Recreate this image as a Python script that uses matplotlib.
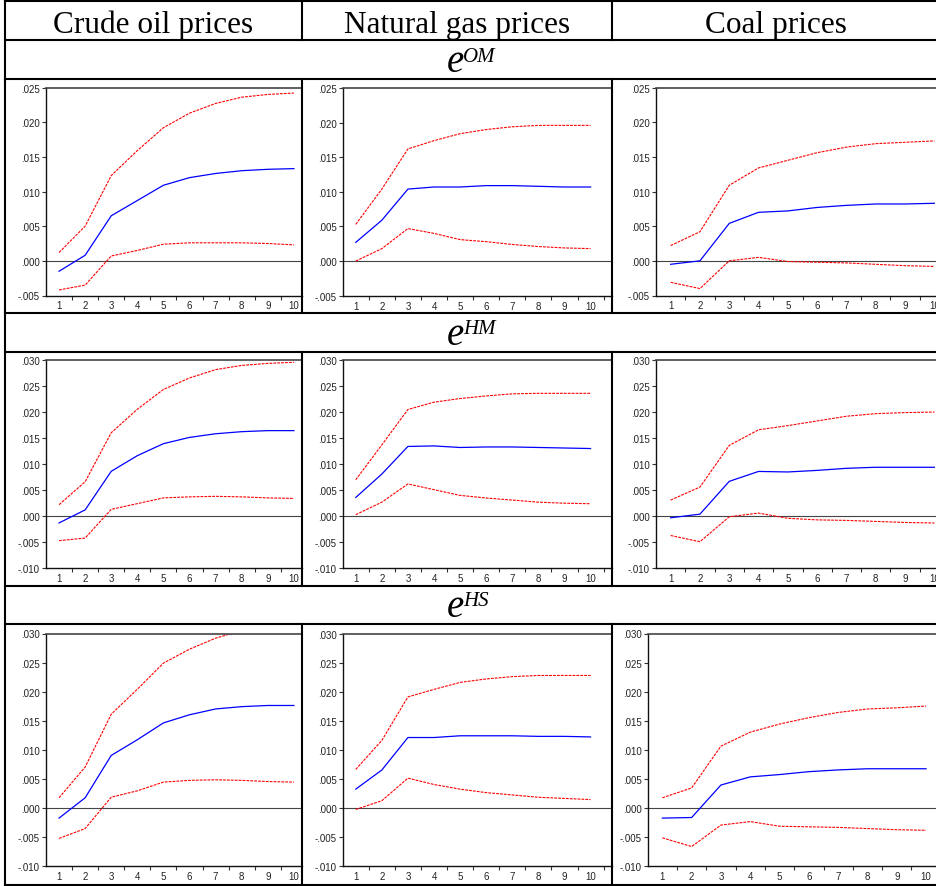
import matplotlib
matplotlib.use('Agg')
import matplotlib.pyplot as plt
from matplotlib.lines import Line2D
from matplotlib.ticker import FuncFormatter, FixedLocator

W, H = 936, 887

periods = [1, 2, 3, 4, 5, 6, 7, 8, 9, 10]
columns = ['Crude oil prices', 'Natural gas prices', 'Coal prices']
shocks = ['OM', 'HM', 'HS']

# impulse responses (blue) with upper / lower bands (red), shock e^OM
om_oil = [-0.0015, 0.0008, 0.0065, 0.0087, 0.0109, 0.0120, 0.0126, 0.0130, 0.0132, 0.0133]
om_oil_hi = [0.0012, 0.0050, 0.0123, 0.0159, 0.0192, 0.0213, 0.0227, 0.0236, 0.0240, 0.0242]
om_oil_lo = [-0.0042, -0.0035, 0.0007, 0.0015, 0.0024, 0.0026, 0.0026, 0.0026, 0.0025, 0.0023]
om_gas = [0.0027, 0.0059, 0.0104, 0.0107, 0.0107, 0.0109, 0.0109, 0.0108, 0.0107, 0.0107]
om_gas_hi = [0.0053, 0.0104, 0.0162, 0.0174, 0.0184, 0.0190, 0.0194, 0.0196, 0.0196, 0.0196]
om_gas_lo = [0.0000, 0.0018, 0.0047, 0.0040, 0.0031, 0.0028, 0.0024, 0.0021, 0.0019, 0.0018]
om_coal = [-0.0005, 0.0000, 0.0054, 0.0070, 0.0072, 0.0077, 0.0080, 0.0082, 0.0082, 0.0083]
om_coal_hi = [0.0022, 0.0042, 0.0109, 0.0134, 0.0145, 0.0156, 0.0164, 0.0169, 0.0171, 0.0173]
om_coal_lo = [-0.0031, -0.0040, 0.0000, 0.0005, -0.0001, -0.0002, -0.0003, -0.0005, -0.0007, -0.0008]

# shock e^HM
hm_oil = [-0.0013, 0.0012, 0.0086, 0.0116, 0.0139, 0.0151, 0.0158, 0.0162, 0.0164, 0.0164]
hm_oil_hi = [0.0022, 0.0066, 0.0160, 0.0205, 0.0243, 0.0265, 0.0281, 0.0289, 0.0293, 0.0295]
hm_oil_lo = [-0.0047, -0.0042, 0.0013, 0.0024, 0.0035, 0.0037, 0.0038, 0.0037, 0.0035, 0.0034]
hm_gas = [0.0036, 0.0081, 0.0134, 0.0135, 0.0132, 0.0133, 0.0133, 0.0132, 0.0131, 0.0130]
hm_gas_hi = [0.0070, 0.0137, 0.0205, 0.0219, 0.0226, 0.0231, 0.0235, 0.0236, 0.0236, 0.0236]
hm_gas_lo = [0.0003, 0.0027, 0.0062, 0.0051, 0.0040, 0.0035, 0.0031, 0.0027, 0.0025, 0.0024]
hm_coal = [-0.0003, 0.0004, 0.0067, 0.0086, 0.0085, 0.0088, 0.0092, 0.0094, 0.0094, 0.0094]
hm_coal_hi = [0.0031, 0.0056, 0.0136, 0.0166, 0.0174, 0.0183, 0.0192, 0.0197, 0.0199, 0.0200]
hm_coal_lo = [-0.0037, -0.0049, -0.0001, 0.0006, -0.0004, -0.0007, -0.0008, -0.0010, -0.0012, -0.0013]

# shock e^HS
hs_oil = [-0.0018, 0.0017, 0.0090, 0.0117, 0.0146, 0.0160, 0.0170, 0.0174, 0.0176, 0.0176]
hs_oil_hi = [0.0017, 0.0070, 0.0161, 0.0204, 0.0249, 0.0273, 0.0292, 0.0305, 0.0310, 0.0312]
hs_oil_lo = [-0.0053, -0.0036, 0.0018, 0.0029, 0.0044, 0.0047, 0.0048, 0.0047, 0.0045, 0.0044]
hs_gas = [0.0032, 0.0065, 0.0121, 0.0121, 0.0124, 0.0124, 0.0124, 0.0123, 0.0123, 0.0122]
hs_gas_hi = [0.0066, 0.0116, 0.0191, 0.0204, 0.0216, 0.0222, 0.0226, 0.0228, 0.0228, 0.0228]
hs_gas_lo = [-0.0003, 0.0012, 0.0051, 0.0040, 0.0032, 0.0026, 0.0022, 0.0018, 0.0016, 0.0014]
hs_coal = [-0.0018, -0.0017, 0.0039, 0.0053, 0.0057, 0.0062, 0.0065, 0.0067, 0.0067, 0.0067]
hs_coal_hi = [0.0017, 0.0034, 0.0106, 0.0130, 0.0144, 0.0155, 0.0164, 0.0170, 0.0172, 0.0175]
hs_coal_lo = [-0.0052, -0.0067, -0.0030, -0.0024, -0.0032, -0.0033, -0.0034, -0.0036, -0.0038, -0.0039]

panels = [
    [(om_oil, om_oil_hi, om_oil_lo), (om_gas, om_gas_hi, om_gas_lo), (om_coal, om_coal_hi, om_coal_lo)],
    [(hm_oil, hm_oil_hi, hm_oil_lo), (hm_gas, hm_gas_hi, hm_gas_lo), (hm_coal, hm_coal_hi, hm_coal_lo)],
    [(hs_oil, hs_oil_hi, hs_oil_lo), (hs_gas, hs_gas_hi, hs_gas_lo), (hs_coal, hs_coal_hi, hs_coal_lo)],
]
row_ylim = [(-0.005, 0.025), (-0.010, 0.030), (-0.010, 0.030)]

# pixel boxes (left, top, right, bottom) and x range of every graph
boxes = [
    [(46, 88.5, 302, 296.5, 10.31), (342.7, 89, 611.7, 296.7, 10.81), (656, 88.5, 949, 296.5, 10.5)],
    [(46, 360.7, 302, 569.3, 10.31), (342.7, 361, 611.7, 569.3, 10.81), (656, 361, 949, 569.3, 10.5)],
    [(46, 634.5, 302, 866.7, 10.31), (342.7, 634.7, 611.7, 866.7, 10.81), (647.7, 634.5, 940.7, 866.7, 10.5)],
]


def fx(px):
    return px / W


def fy(py):
    return 1 - py / H


def ylab(v, pos):
    s = '%.3f' % v
    return s.replace('0.', '.', 1)


fig = plt.figure(figsize=(W / 100, H / 100), dpi=100)
fig.patch.set_facecolor('white')

for r in range(3):
    for c in range(3):
        left, top, right, bottom, xmax = boxes[r][c]
        ax = fig.add_axes([fx(left), fy(bottom), (right - left) / W, (bottom - top) / H])
        resp, hi, lo = panels[r][c]
        ax.axhline(0, color='#444444', lw=0.8, zorder=1)
        ax.plot(periods, hi, color='red', lw=0.8, ls=(0, (2.5, 1)), zorder=2)
        ax.plot(periods, lo, color='red', lw=0.8, ls=(0, (2.5, 1)), zorder=2)
        ax.plot(periods, resp, color='blue', lw=0.9, zorder=3)
        ax.set_xlim(0.5, xmax)
        ax.set_ylim(*row_ylim[r])
        ax.xaxis.set_major_locator(FixedLocator(periods))
        ax.xaxis.set_minor_locator(FixedLocator([p + 0.5 for p in periods]))
        ax.yaxis.set_major_locator(FixedLocator(
            [row_ylim[r][0] + 0.005 * k for k in range(int(round((row_ylim[r][1] - row_ylim[r][0]) / 0.005)) + 1)]))
        ax.yaxis.set_major_formatter(FuncFormatter(ylab))
        ax.tick_params(axis='x', which='major', length=0, pad=3.5, labelsize=7, labelcolor='#222222')
        ax.tick_params(axis='x', which='minor', length=3, width=0.8, direction='out', color='#333333')
        ax.tick_params(axis='y', which='major', length=3, width=0.8, direction='out', pad=1.5,
                       labelsize=7, labelcolor='#222222', color='#333333')
        for lab in ax.get_xticklabels() + ax.get_yticklabels():
            lab.set_family('Liberation Sans')
        for side in ['left', 'bottom']:
            ax.spines[side].set_color('#111111')
            ax.spines[side].set_linewidth(1.0)
        for side in ['top', 'right']:
            ax.spines[side].set_color('#444444')
            ax.spines[side].set_linewidth(1.2)

# table rules
hlines = [1.5, 40.5, 80, 314, 352.5, 587, 625, 886]
for y in hlines:
    fig.add_artist(Line2D([fx(4.5), 1.0], [fy(y), fy(y)], color='black', lw=1.5, zorder=10))
fig.add_artist(Line2D([fx(5.3), fx(5.3)], [fy(1), fy(886.5)], color='black', lw=1.5, zorder=10))
for x in [301.8, 611.8]:
    for y0, y1 in [(1.5, 40.5), (80, 314), (352.5, 587), (625, 886)]:
        fig.add_artist(Line2D([fx(x), fx(x)], [fy(y0), fy(y1)], color='black', lw=1.5, zorder=10))

# column headings
for x, name in zip([153.5, 457, 776], columns):
    fig.text(fx(x), fy(33.5), name, ha='center', va='baseline',
             family='Liberation Serif', fontsize=22.5, color='black')

# shock labels
for y, s in zip([72.5, 345, 617.5], shocks):
    fig.text(fx(446.5), fy(y), 'e', ha='left', va='baseline',
             family='Liberation Serif', style='italic', fontsize=28, color='black')
    fig.text(fx(463), fy(y - 11), s, ha='left', va='baseline',
             family='Liberation Serif', style='italic', fontsize=15, color='black')

fig.savefig('out.png', dpi=100)
